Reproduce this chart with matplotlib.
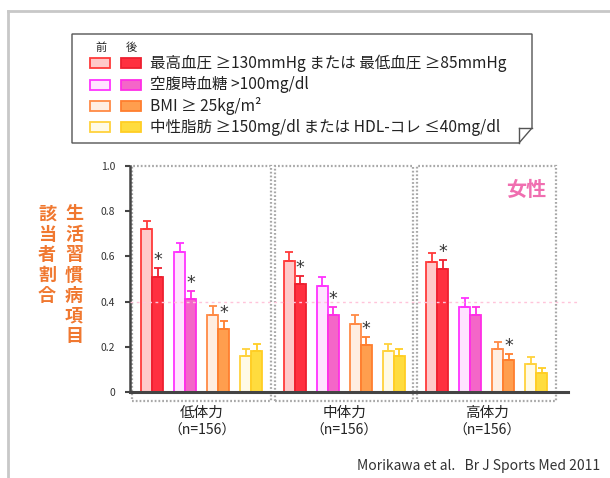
"""生活習慣病項目の該当者割合（体力レベル別・介入前後）。"""

import matplotlib
matplotlib.use("Agg")
import matplotlib.pyplot as plt
from matplotlib.lines import Line2D
from matplotlib.patches import Rectangle, Polygon
import numpy as np

plt.rcParams['font.family'] = ['Noto Sans CJK JP', 'DejaVu Sans']

# データ
groups = ['低体力', '中体力', '高体力']
group_n = ['（n=156）', '（n=156）', '（n=156）']
items = [
    '最高血圧 ≥130mmHg または 最低血圧 ≥85mmHg',
    '空腹時血糖 >100mg/dl',
    'BMI ≥ 25kg/m²',
    '中性脂肪 ≥150mg/dl または HDL-コレ ≤40mg/dl',
]
pre = [
    [0.72, 0.62, 0.34, 0.16],
    [0.58, 0.47, 0.30, 0.18],
    [0.575, 0.375, 0.19, 0.125],
]
post = [
    [0.51, 0.41, 0.28, 0.18],
    [0.48, 0.34, 0.21, 0.16],
    [0.545, 0.34, 0.14, 0.085],
]
pre_err = [
    [0.035, 0.04, 0.04, 0.03],
    [0.038, 0.041, 0.04, 0.033],
    [0.039, 0.04, 0.033, 0.029],
]
post_err = [
    [0.04, 0.038, 0.035, 0.033],
    [0.035, 0.037, 0.033, 0.029],
    [0.04, 0.038, 0.028, 0.02],
]
signif = [
    [True, True, True, False],
    [True, True, True, False],
    [True, False, True, False],
]
yticks = [0, 0.2, 0.4, 0.6, 0.8, 1.0]
ytick_labels = ['0', '0.2', '0.4', '0.6', '0.8', '1.0']

# 色（前：淡色、後：濃色）
pre_face = ['#FFC9C9', '#FFE3FF', '#FFEEE2', '#FFFAE6']
pre_edge = ['#FF3A3A', '#FF33FF', '#FF8A45', '#FFD23C']
post_face = ['#FF3040', '#F466C8', '#FF9E4E', '#FFDC3E']
post_edge = ['#EE2030', '#FF2EE6', '#FF7E2E', '#FFCE24']

W, H = 610, 478
fig = plt.figure(figsize=(6.1, 4.78), dpi=100)


def px(x, y):
    return x / W, 1 - y / H


ax = fig.add_axes([130 / W, 1 - 392 / H, 438 / W, 226 / H])

G = 4.32
bw = 0.333
for g in range(len(groups)):
    centers = g * G + np.arange(4)
    ax.bar(centers - bw / 2, pre[g], width=bw, color=pre_face, edgecolor=pre_edge,
           linewidth=1.3, zorder=3)
    ax.bar(centers + bw / 2, post[g], width=bw, color=post_face, edgecolor=post_edge,
           linewidth=1.3, zorder=3)
    for k in range(4):
        for dx, v, e, c in [(-bw / 2, pre[g][k], pre_err[g][k], pre_edge[k]),
                            (bw / 2, post[g][k], post_err[g][k], post_edge[k])]:
            ax.errorbar(centers[k] + dx, v, yerr=[[0], [e]], fmt='none', ecolor=c,
                        elinewidth=1.3, capsize=2.8, capthick=1.3, zorder=4)
        if signif[g][k]:
            ax.text(centers[k] + bw / 2, post[g][k] + post_err[g][k] + 0.035, '*',
                    ha='center', va='center', fontsize=12.5, color='#333333',
                    family='DejaVu Sans', zorder=5)

    # 群の点線枠
    gc = g * G + 1.5
    ax.add_patch(Rectangle((gc - 2.1, -0.04), 4.2, 1.04, fill=False,
                           edgecolor='#A8A8A8', linewidth=1.6, linestyle=(0, (0.8, 0.9)),
                           clip_on=False, zorder=1))
    ax.text(gc, -0.093, groups[g], ha='center', va='center', fontsize=10.5,
            color='#222222')
    ax.text(gc, -0.17, group_n[g], ha='center', va='center', fontsize=10,
            color='#222222')

ax.axhline(0.4, xmin=0, xmax=1.02, color='#FFC4DA', linewidth=1,
           linestyle=(0, (2, 2.5)), clip_on=False, zorder=6)

ax.set_xlim(-0.667, 12.606)
ax.set_ylim(0, 1.0)
ax.set_yticks(yticks)
ax.set_yticklabels(ytick_labels)
ax.set_xticks([])
for s in ['top', 'right']:
    ax.spines[s].set_visible(False)
ax.spines['left'].set_color('#444444')
ax.spines['left'].set_linewidth(1.8)
ax.spines['bottom'].set_color('#444444')
ax.spines['bottom'].set_linewidth(2.2)
ax.spines['bottom'].set_zorder(7)
ax.tick_params(axis='y', direction='out', length=3.5, width=1.5, color='#444444',
               labelsize=7.5, labelcolor='#333333', pad=7)

fig.text(*px(526, 190), '女性', ha='center', va='center', fontsize=14.5,
         fontweight='bold', color='#F06EB0')

# 縦書きの軸ラベル
orange = '#F07830'
for col_x, label in [(74, '生活習慣病項目'), (47, '該当者割合')]:
    for i, ch in enumerate(label):
        fig.text(*px(col_x, 214 + i * 20.4), ch, ha='center', va='center',
                 fontsize=13, fontweight='bold', color=orange)

# 凡例（右下が折れた枠）
box = [(72, 34), (532, 34), (532, 128), (519, 143), (72, 143)]
fig.add_artist(Polygon([px(x, y) for x, y in box], closed=True, fill=True,
                       facecolor='white', edgecolor='#555555', linewidth=1,
                       transform=fig.transFigure))
fig.add_artist(Line2D(*zip(px(519, 128), px(532, 128)), color='#555555', linewidth=1))
fig.add_artist(Line2D(*zip(px(519, 128), px(519, 143)), color='#555555', linewidth=1))

fig.text(*px(101, 48), '前', ha='center', va='center', fontsize=8, color='#222222')
fig.text(*px(131, 48), '後', ha='center', va='center', fontsize=8, color='#222222')
row_y = [63, 84.5, 106, 127.5]
for k, label in enumerate(items):
    y = row_y[k]
    for x0, fc, ec in [(90, pre_face[k], pre_edge[k]), (121, post_face[k], post_edge[k])]:
        x, yy = px(x0, y + 5)
        fig.add_artist(Rectangle((x, yy), 20 / W, 10 / H, facecolor=fc, edgecolor=ec,
                                 linewidth=1.3, transform=fig.transFigure))
    fig.text(*px(150, y), label, ha='left', va='center', fontsize=11.2, color='#222222')

# 外枠
fig.add_artist(Line2D([8 / W, 1], [1 - 11 / H, 1 - 11 / H], color='#C8C8C8', linewidth=2))
fig.add_artist(Line2D([8 / W, 8 / W], [0, 1 - 11 / H], color='#C8C8C8', linewidth=2))

fig.text(*px(600, 466), 'Morikawa et al.   Br J Sports Med 2011', ha='right',
         va='center', fontsize=10, color='#333333')

fig.savefig('out.png', dpi=100)
